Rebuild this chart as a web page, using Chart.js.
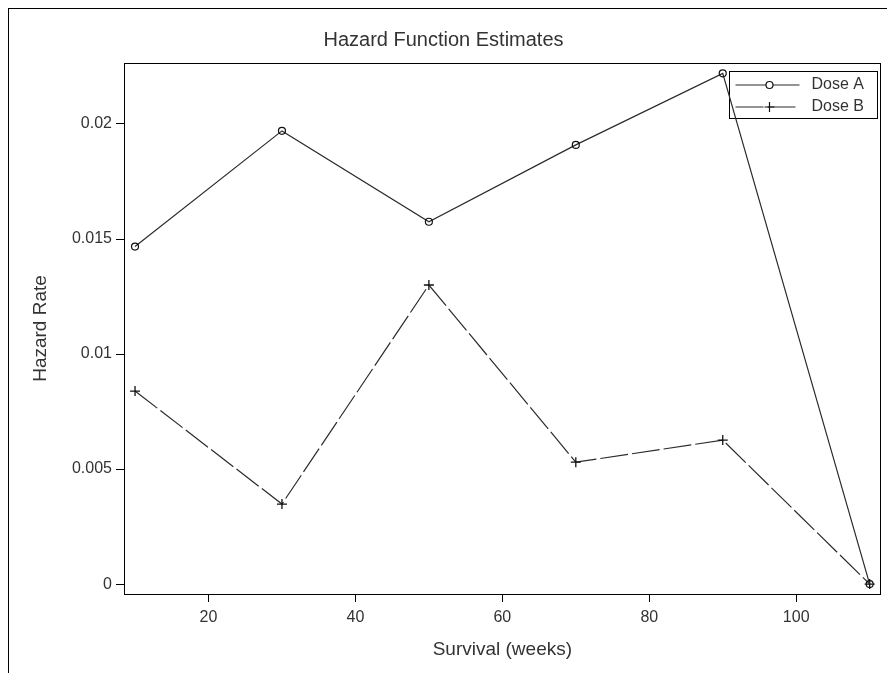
<!DOCTYPE html>
<html>
<head>
<meta charset="utf-8">
<script src="https://cdn.jsdelivr.net/npm/chart.js@4"></script>
<style>
  html, body { margin: 0; padding: 0; background: #ffffff; }
  #wrap { width: 887px; height: 673px; }
</style>
</head>
<body>
<div id="wrap"><canvas id="hazard" width="887" height="673"></canvas></div>
<script>
// Survival time (weeks) at the midpoint of each interval
const weeks = [10, 30, 50, 70, 90, 110];
// Estimated hazard rate per group
const doseA = [0.01467, 0.0197, 0.01575, 0.01909, 0.0222, 0];
const doseB = [0.00839, 0.00348, 0.0130, 0.0053, 0.00626, 0];
// Axis tick labels
const xTicks = [20, 40, 60, 80, 100];
const yTicks = [0, 0.005, 0.01, 0.015, 0.02];

const chartTitle = 'Hazard Function Estimates';
const xTitle = 'Survival (weeks)';
const yTitle = 'Hazard Rate';

const ink = '#2b2b2b';
const textInk = '#333333';
const fontFamily = '"Liberation Sans", Arial, sans-serif';

const toPoints = (ys) => weeks.map((w, i) => ({ x: w, y: ys[i] }));

// Page frame, centred heading and plot border
const framePlugin = {
  id: 'frame',
  beforeDraw(chart) {
    const ctx = chart.ctx;
    ctx.save();
    ctx.fillStyle = '#ffffff';
    ctx.fillRect(0, 0, chart.width, chart.height);
    ctx.strokeStyle = '#000000';
    ctx.lineWidth = 1;
    ctx.strokeRect(8.5, 8.5, chart.width + 20, chart.height + 20);
    ctx.restore();
  },
  afterDraw(chart) {
    const ctx = chart.ctx;
    ctx.save();
    ctx.fillStyle = textInk;
    ctx.font = '20px ' + fontFamily;
    ctx.textAlign = 'center';
    ctx.textBaseline = 'middle';
    ctx.fillText(chartTitle, chart.width / 2, 40);
    const a = chart.chartArea;
    ctx.strokeStyle = '#000000';
    ctx.lineWidth = 1;
    ctx.strokeRect(Math.round(a.left) + 0.5, Math.round(a.top) + 0.5,
                   Math.round(a.right - a.left) - 1, Math.round(a.bottom - a.top));
    ctx.restore();
  }
};

// Boxed legend in the upper right corner of the plot, under the data lines
const boxLegend = {
  id: 'boxLegend',
  beforeDatasetsDraw(chart) {
    const ctx = chart.ctx;
    const a = chart.chartArea;
    const boxW = 148, boxH = 47;
    const x0 = Math.round(a.right) - boxW - 3.5;
    const y0 = Math.round(a.top) + 8.5;
    ctx.save();
    ctx.fillStyle = '#ffffff';
    ctx.fillRect(x0, y0, boxW, boxH);
    ctx.strokeStyle = '#000000';
    ctx.lineWidth = 1;
    ctx.strokeRect(x0, y0, boxW, boxH);
    chart.data.datasets.forEach((ds, i) => {
      const cy = y0 + 13.5 + i * 22;
      const lx0 = x0 + 6, lx1 = x0 + 70, mx = x0 + 40;
      ctx.strokeStyle = ds.borderColor;
      ctx.lineWidth = ds.borderWidth;
      ctx.setLineDash(ds.borderDash || []);
      ctx.beginPath();
      ctx.moveTo(lx0, cy);
      ctx.lineTo(lx1, cy);
      ctx.stroke();
      ctx.setLineDash([]);
      ctx.strokeStyle = ds.pointBorderColor;
      ctx.lineWidth = 1.2;
      if (ds.pointStyle === 'circle') {
        ctx.fillStyle = '#ffffff';
        ctx.beginPath();
        ctx.arc(mx, cy, ds.pointRadius, 0, Math.PI * 2);
        ctx.fill();
        ctx.stroke();
      } else {
        const r = ds.pointRadius;
        ctx.beginPath();
        ctx.moveTo(mx - r, cy); ctx.lineTo(mx + r, cy);
        ctx.moveTo(mx, cy - r); ctx.lineTo(mx, cy + r);
        ctx.stroke();
      }
      ctx.fillStyle = textInk;
      ctx.font = '16px ' + fontFamily;
      ctx.textAlign = 'left';
      ctx.textBaseline = 'middle';
      ctx.fillText(ds.label, x0 + 82, cy);
    });
    ctx.restore();
  }
};

new Chart(document.getElementById('hazard'), {
  type: 'line',
  data: {
    datasets: [
      {
        label: 'Dose A',
        data: toPoints(doseA),
        borderColor: ink,
        borderWidth: 1.2,
        pointStyle: 'circle',
        pointRadius: 3.5,
        pointBorderColor: '#111111',
        pointBackgroundColor: 'rgba(255,255,255,0)',
        pointBorderWidth: 1.2,
        tension: 0,
        fill: false
      },
      {
        label: 'Dose B',
        data: toPoints(doseB),
        borderColor: ink,
        borderWidth: 1.2,
        borderDash: [28, 4],
        pointStyle: 'cross',
        pointRadius: 5,
        pointBorderColor: '#111111',
        pointBorderWidth: 1.3,
        tension: 0,
        fill: false
      }
    ]
  },
  options: {
    responsive: false,
    animation: false,
    devicePixelRatio: 1,
    layout: { padding: { left: 0, top: 63, right: 2, bottom: 0 } },
    plugins: {
      legend: { display: false },
      title: { display: false },
      tooltip: { enabled: false }
    },
    scales: {
      x: {
        type: 'linear',
        min: 8.5,
        max: 111.5,
        afterBuildTicks(scale) { scale.ticks = xTicks.map(v => ({ value: v })); },
        afterFit(scale) { scale.height = 79; },
        border: { display: false },
        grid: {
          drawOnChartArea: false,
          drawTicks: true,
          tickLength: 8,
          color: '#000000'
        },
        ticks: {
          color: textInk,
          padding: 6,
          maxRotation: 0,
          font: { family: fontFamily, size: 16 }
        },
        title: {
          display: true,
          text: xTitle,
          color: textInk,
          padding: { top: 0, bottom: 12 },
          font: { family: fontFamily, size: 19 }
        }
      },
      y: {
        type: 'linear',
        min: -0.00043,
        max: 0.02265,
        afterBuildTicks(scale) { scale.ticks = yTicks.map(v => ({ value: v })); },
        afterFit(scale) { scale.width = 124; },
        border: { display: false },
        grid: {
          drawOnChartArea: false,
          drawTicks: true,
          tickLength: 8,
          color: '#000000'
        },
        ticks: {
          color: textInk,
          padding: 4,
          font: { family: fontFamily, size: 16 },
          callback: (v) => String(+Number(v).toFixed(3))
        },
        title: {
          display: true,
          text: yTitle,
          color: textInk,
          padding: { top: 29, bottom: 0 },
          font: { family: fontFamily, size: 19 }
        }
      }
    }
  },
  plugins: [framePlugin, boxLegend]
});
</script>
</body>
</html>
